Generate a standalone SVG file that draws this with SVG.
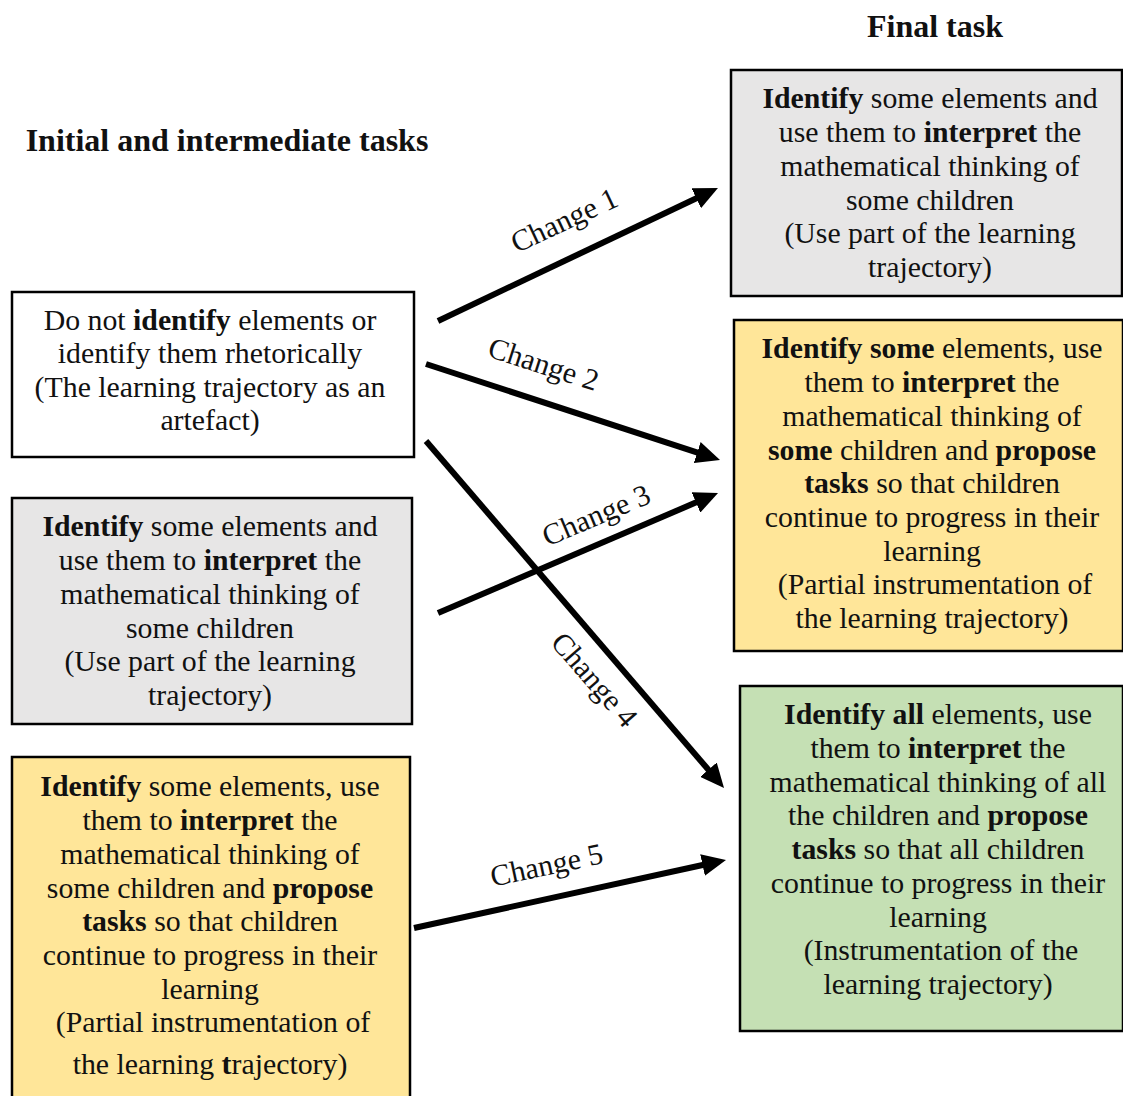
<svg xmlns="http://www.w3.org/2000/svg" width="1123" height="1096" viewBox="0 0 1123 1096">
<defs>
<style>
.box{stroke:#000;stroke-width:2.5}
.white{fill:#fff}
.gray{fill:#e7e6e6}
.yellow{fill:#ffe699}
.green{fill:#c5e0b4}
.t{font-family:"Liberation Serif","Times New Roman",serif;font-size:29.8px;fill:#111;text-anchor:middle}
.b{font-weight:bold}
.title{font-family:"Liberation Serif","Times New Roman",serif;font-size:32px;font-weight:bold;fill:#111;text-anchor:middle}
.lbl{font-family:"Liberation Serif","Times New Roman",serif;font-size:30px;fill:#111;text-anchor:middle}
.arrow{stroke:#000;stroke-width:6;fill:none;marker-end:url(#ah)}
</style>
<marker id="ah" viewBox="0 0 24 22" refX="6" refY="11" markerWidth="24" markerHeight="22" markerUnits="userSpaceOnUse" orient="auto">
<path d="M0,0 L24,11 L0,22 Z" fill="#000"/>
</marker>
</defs>
<rect width="1123" height="1096" fill="#fff"/>

<g id="titles">
<text class="title" x="935" y="37">Final task</text>
<text class="title" x="227" y="151">Initial and intermediate tasks</text>
</g>

<g id="node-initial-1">
<rect class="box white" x="12" y="292" width="402" height="165"/>
<text class="t" x="210" y="330">Do not <tspan class="b">identify</tspan> elements or</text>
<text class="t" x="210" y="363">identify them rhetorically</text>
<text class="t" x="210" y="397">(The learning trajectory as an</text>
<text class="t" x="210" y="430">artefact)</text>
</g>

<g id="node-initial-2">
<rect class="box gray" x="12" y="498" width="400" height="226"/>
<text class="t" x="210" y="536"><tspan class="b">Identify</tspan> some elements and</text>
<text class="t" x="210" y="570">use them to <tspan class="b">interpret</tspan> the</text>
<text class="t" x="210" y="604">mathematical thinking of</text>
<text class="t" x="210" y="638">some children</text>
<text class="t" x="210" y="671">(Use part of the learning</text>
<text class="t" x="210" y="705">trajectory)</text>
</g>

<g id="node-initial-3">
<rect class="box yellow" x="12" y="757" width="398" height="345"/>
<text class="t" x="210" y="796"><tspan class="b">Identify</tspan> some elements, use</text>
<text class="t" x="210" y="830">them to <tspan class="b">interpret</tspan> the</text>
<text class="t" x="210" y="864">mathematical thinking of</text>
<text class="t" x="210" y="898">some children and <tspan class="b">propose</tspan></text>
<text class="t" x="210" y="931"><tspan class="b">tasks</tspan> so that children</text>
<text class="t" x="210" y="965">continue to progress in their</text>
<text class="t" x="210" y="999">learning</text>
<text class="t" x="213" y="1032">(Partial instrumentation of</text>
<text class="t" x="210" y="1074">the learning <tspan class="b">t</tspan>rajectory)</text>
</g>

<g id="node-final-1">
<rect class="box gray" x="731" y="70" width="391" height="226"/>
<text class="t" x="930" y="108"><tspan class="b">Identify</tspan> some elements and</text>
<text class="t" x="930" y="142">use them to <tspan class="b">interpret</tspan> the</text>
<text class="t" x="930" y="176">mathematical thinking of</text>
<text class="t" x="930" y="210">some children</text>
<text class="t" x="930" y="243">(Use part of the learning</text>
<text class="t" x="930" y="277">trajectory)</text>
</g>

<g id="node-final-2">
<rect class="box yellow" x="734" y="320" width="389" height="331"/>
<text class="t" x="932" y="358"><tspan class="b">Identify some</tspan> elements, use</text>
<text class="t" x="932" y="392">them to <tspan class="b">interpret</tspan> the</text>
<text class="t" x="932" y="426">mathematical thinking of</text>
<text class="t" x="932" y="460"><tspan class="b">some</tspan> children and <tspan class="b">propose</tspan></text>
<text class="t" x="932" y="493"><tspan class="b">tasks</tspan> so that children</text>
<text class="t" x="932" y="527">continue to progress in their</text>
<text class="t" x="932" y="561">learning</text>
<text class="t" x="935" y="594">(Partial instrumentation of</text>
<text class="t" x="932" y="628">the learning trajectory)</text>
</g>

<g id="node-final-3">
<rect class="box green" x="740" y="686" width="383" height="345"/>
<text class="t" x="938" y="724"><tspan class="b">Identify all</tspan> elements, use</text>
<text class="t" x="938" y="758">them to <tspan class="b">interpret</tspan> the</text>
<text class="t" x="938" y="792">mathematical thinking of all</text>
<text class="t" x="938" y="825">the children and <tspan class="b">propose</tspan></text>
<text class="t" x="938" y="859"><tspan class="b">tasks</tspan> so that all children</text>
<text class="t" x="938" y="893">continue to progress in their</text>
<text class="t" x="938" y="927">learning</text>
<text class="t" x="941" y="960">(Instrumentation of the</text>
<text class="t" x="938" y="994">learning trajectory)</text>
</g>

<g id="connectors">
<line class="arrow" x1="438" y1="321" x2="701.7" y2="195.7"/>
<line class="arrow" x1="426" y1="364" x2="702.9" y2="454.4"/>
<line class="arrow" x1="438" y1="613" x2="701.5" y2="500.1"/>
<line class="arrow" x1="426" y1="441" x2="712.3" y2="774.3"/>
<line class="arrow" x1="414" y1="928" x2="708.4" y2="863.8"/>
<text class="lbl" transform="translate(565,222) rotate(-25)" y="8">Change 1</text>
<text class="lbl" transform="translate(543,366) rotate(18)" y="8">Change 2</text>
<text class="lbl" transform="translate(597,517) rotate(-23)" y="8">Change 3</text>
<text class="lbl" transform="translate(593,681) rotate(49)" y="8">Change 4</text>
<text class="lbl" transform="translate(547,867) rotate(-12)" y="8">Change 5</text>
</g>
</svg>
